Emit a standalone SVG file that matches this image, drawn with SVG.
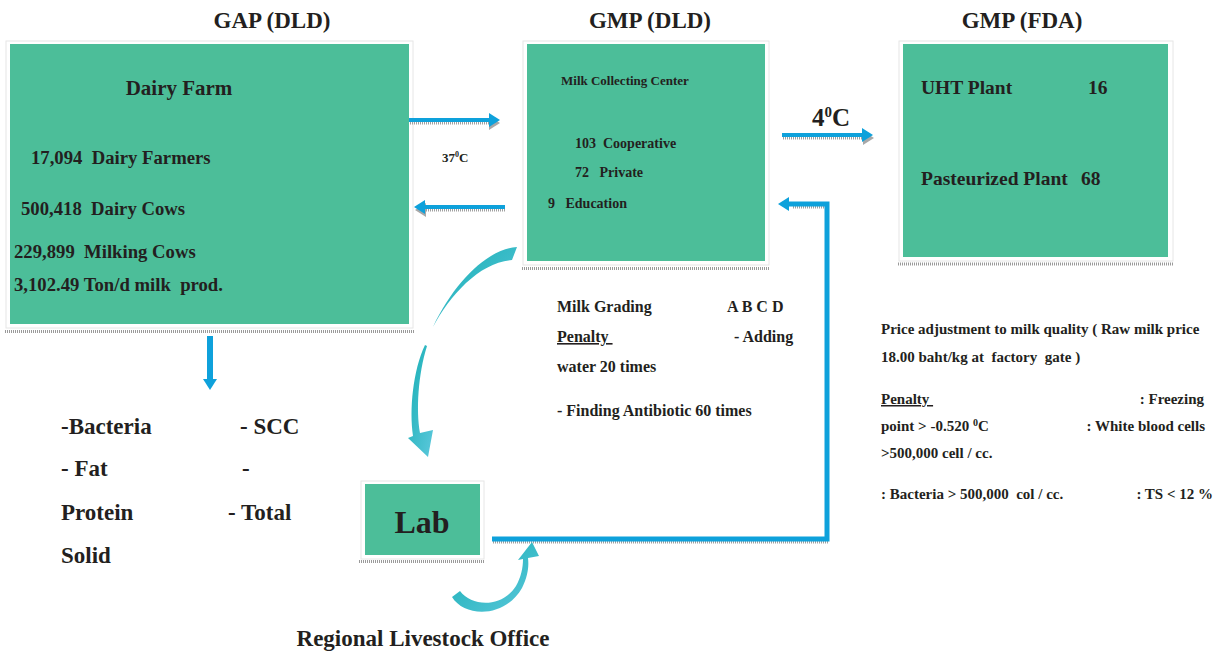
<svg xmlns="http://www.w3.org/2000/svg" width="1223" height="653" viewBox="0 0 1223 653">
<style>
text{fill:#231F20;font-weight:bold}
.frame{fill:#fff;stroke:#e6e6e6;stroke-width:1}
.box{fill:#4CBE99}
.shadow{stroke:#9a9a9a;stroke-width:3;stroke-dasharray:1 1;fill:none}
.conn{stroke:#0EA1DB;fill:none}
.cshadow{stroke:#a0a0a0;fill:none;stroke-dasharray:1 1}
.curve{fill:url(#tealGrad)}
</style>
<defs>
<marker id="head" markerUnits="userSpaceOnUse" markerWidth="12" markerHeight="14" refX="0" refY="7" orient="auto">
<path d="M0,0 L11,7 L0,14 Z" fill="#0EA1DB"/>
</marker>
<marker id="headShadow" markerUnits="userSpaceOnUse" markerWidth="12" markerHeight="14" refX="0" refY="7" orient="auto">
<path d="M0,0 L11,7 L0,14 Z" fill="#a8a8a8"/>
</marker>
<linearGradient id="tealGrad" x1="0" y1="0" x2="1" y2="1">
<stop offset="0" stop-color="#16AEB3"/>
<stop offset="1" stop-color="#5CC8DC"/>
</linearGradient>
</defs>
<rect width="1223" height="653" fill="#fff"/>

<g id="titles">
<text font-family="Liberation Serif" x="272" y="28" text-anchor="middle" font-size="23">GAP (DLD)</text>
<text font-family="Liberation Serif" x="650" y="28" text-anchor="middle" font-size="23">GMP (DLD)</text>
<text font-family="Liberation Serif" x="1022" y="28" text-anchor="middle" font-size="23">GMP (FDA)</text>
</g>

<g id="dairy-farm">
<rect class="frame" x="6" y="41" width="407" height="287"/>
<rect class="box" x="10" y="44" width="399" height="280"/>
<line class="shadow" x1="5" y1="331.5" x2="415" y2="331.5"/>
<text font-family="Liberation Serif" x="179" y="95" text-anchor="middle" font-size="21">Dairy Farm</text>
<text font-family="Liberation Serif" x="31" y="164" font-size="18.7" xml:space="preserve">17,094  Dairy Farmers</text>
<text font-family="Liberation Serif" x="21" y="215" font-size="18.7" xml:space="preserve">500,418  Dairy Cows</text>
<text font-family="Liberation Serif" x="14" y="258" font-size="18.7" xml:space="preserve">229,899  Milking Cows</text>
<text font-family="Liberation Serif" x="14" y="291" font-size="18.7" xml:space="preserve">3,102.49 Ton/d milk  prod.</text>
</g>

<g id="milk-collecting-center">
<rect class="frame" x="523" y="41" width="246" height="224"/>
<rect class="box" x="527" y="44" width="238" height="217"/>
<line class="shadow" x1="522" y1="268.5" x2="770" y2="268.5"/>
<text font-family="Liberation Serif" x="561" y="85" font-size="13">Milk Collecting Center</text>
<text font-family="Liberation Serif" x="575" y="148" font-size="14" xml:space="preserve">103  Cooperative</text>
<text font-family="Liberation Serif" x="575" y="177" font-size="14" xml:space="preserve">72   Private</text>
<text font-family="Liberation Serif" x="548" y="208" font-size="14" xml:space="preserve">9   Education</text>
</g>

<g id="gmp-fda-plants">
<rect class="frame" x="899" y="41" width="274" height="220"/>
<rect class="box" x="903" y="44" width="265" height="213"/>
<line class="shadow" x1="898" y1="264" x2="1173" y2="264"/>
<text font-family="Liberation Serif" x="921" y="94" font-size="19.5">UHT Plant</text>
<text font-family="Liberation Serif" x="1088" y="94" font-size="19.5">16</text>
<text font-family="Liberation Serif" x="921" y="185" font-size="19.5">Pasteurized Plant</text>
<text font-family="Liberation Serif" x="1081" y="185" font-size="19.5">68</text>
</g>

<g id="lab">
<rect class="frame" x="361" y="481" width="123" height="78"/>
<rect class="box" x="365" y="484" width="115" height="71"/>
<line class="shadow" x1="359" y1="561.5" x2="485" y2="561.5"/>
<text font-family="Liberation Serif" x="422" y="533" text-anchor="middle" font-size="32">Lab</text>
</g>

<g id="regional-livestock-office">
<text font-family="Liberation Serif" x="423" y="646" text-anchor="middle" font-size="23">Regional Livestock Office</text>
</g>

<g id="test-items">
<text font-family="Liberation Serif" x="61" y="434" font-size="23">-Bacteria</text>
<text font-family="Liberation Serif" x="240" y="434" font-size="23">- SCC</text>
<text font-family="Liberation Serif" x="61" y="476" font-size="23">- Fat</text>
<text font-family="Liberation Serif" x="242" y="476" font-size="23">-</text>
<text font-family="Liberation Serif" x="61" y="520" font-size="23">Protein</text>
<text font-family="Liberation Serif" x="228" y="520" font-size="23">- Total</text>
<text font-family="Liberation Serif" x="61" y="563" font-size="23">Solid</text>
</g>

<g id="milk-grading">
<text font-family="Liberation Serif" x="557" y="312" font-size="16">Milk Grading</text>
<text font-family="Liberation Serif" x="727" y="312" font-size="16">A B C D</text>
<text font-family="Liberation Serif" x="557" y="342" font-size="16" text-decoration="underline" xml:space="preserve">Penalty </text>
<text font-family="Liberation Serif" x="734" y="342" font-size="16">- Adding</text>
<text font-family="Liberation Serif" x="557" y="372" font-size="16">water 20 times</text>
<text font-family="Liberation Serif" x="557" y="416" font-size="16">- Finding Antibiotic 60 times</text>
</g>

<g id="price-adjustment">
<text font-family="Liberation Serif" x="881" y="334" font-size="15">Price adjustment to milk quality ( Raw milk price</text>
<text font-family="Liberation Serif" x="881" y="362" font-size="15" xml:space="preserve">18.00 baht/kg at  factory  gate )</text>
<text font-family="Liberation Serif" x="881" y="404" font-size="15" text-decoration="underline" xml:space="preserve">Penalty </text>
<text font-family="Liberation Serif" x="1204" y="404" font-size="15" text-anchor="end">: Freezing</text>
<text font-family="Liberation Serif" x="881" y="431" font-size="15">point &gt; -0.520 <tspan font-size="10" dy="-5">0</tspan><tspan dy="5">C</tspan></text>
<text font-family="Liberation Serif" x="1205" y="431" font-size="15" text-anchor="end">: White blood cells</text>
<text font-family="Liberation Serif" x="881" y="458" font-size="15">&gt;500,000 cell / cc.</text>
<text font-family="Liberation Serif" x="881" y="499" font-size="15" xml:space="preserve">: Bacteria &gt; 500,000  col / cc.</text>
<text font-family="Liberation Serif" x="1213" y="499" font-size="15" text-anchor="end">: TS &lt; 12 %</text>
</g>

<g id="connectors">
<line class="cshadow" x1="410" y1="123" x2="489" y2="123" stroke-width="3" marker-end="url(#headShadow)"/>
<line class="conn" x1="409" y1="120" x2="489" y2="120" stroke-width="4" marker-end="url(#head)"/>
<text font-family="Liberation Serif" x="442" y="162" font-size="13">37<tspan font-size="8" dy="-5">0</tspan><tspan dy="5">C</tspan></text>
<line class="cshadow" x1="505" y1="210" x2="426" y2="210" stroke-width="3" marker-end="url(#headShadow)"/>
<line class="conn" x1="505" y1="207" x2="425" y2="207" stroke-width="4" marker-end="url(#head)"/>
<line class="cshadow" x1="783" y1="138" x2="863" y2="138" stroke-width="3" marker-end="url(#headShadow)"/>
<line class="conn" x1="782" y1="135" x2="862" y2="135" stroke-width="4" marker-end="url(#head)"/>
<text font-family="Liberation Serif" x="812" y="126" font-size="25">4<tspan font-size="15" dy="-9">0</tspan><tspan dy="9">C</tspan></text>
<line class="conn" x1="210" y1="336" x2="210" y2="379" stroke-width="6" marker-end="url(#head)"/>
<polyline class="cshadow" points="493,542 829,542" stroke-width="3"/>
<polyline class="cshadow" points="826,207 792,207" stroke-width="3"/>
<polyline class="conn" points="492,539 827,539 827,204 789,204" stroke-width="5" marker-end="url(#head)"/>
<path class="curve" d="M517,247 C490,248 455,280 433,327 C450,295 480,262 512,260 Z"/>
<path class="curve" d="M425,345 C413,370 409,410 413,436 L408,438 L428,457 L433,430 L420,433 C416,410 418,375 427,346 Z"/>
<path class="curve" d="M452,597 C465,618 505,618 522,588 C528,576 529,566 528,558 L539,556 L532,542 L518,560 L523,559 C523,568 521,577 516,586 C502,608 472,607 460,591 Z"/>
</g>
</svg>
